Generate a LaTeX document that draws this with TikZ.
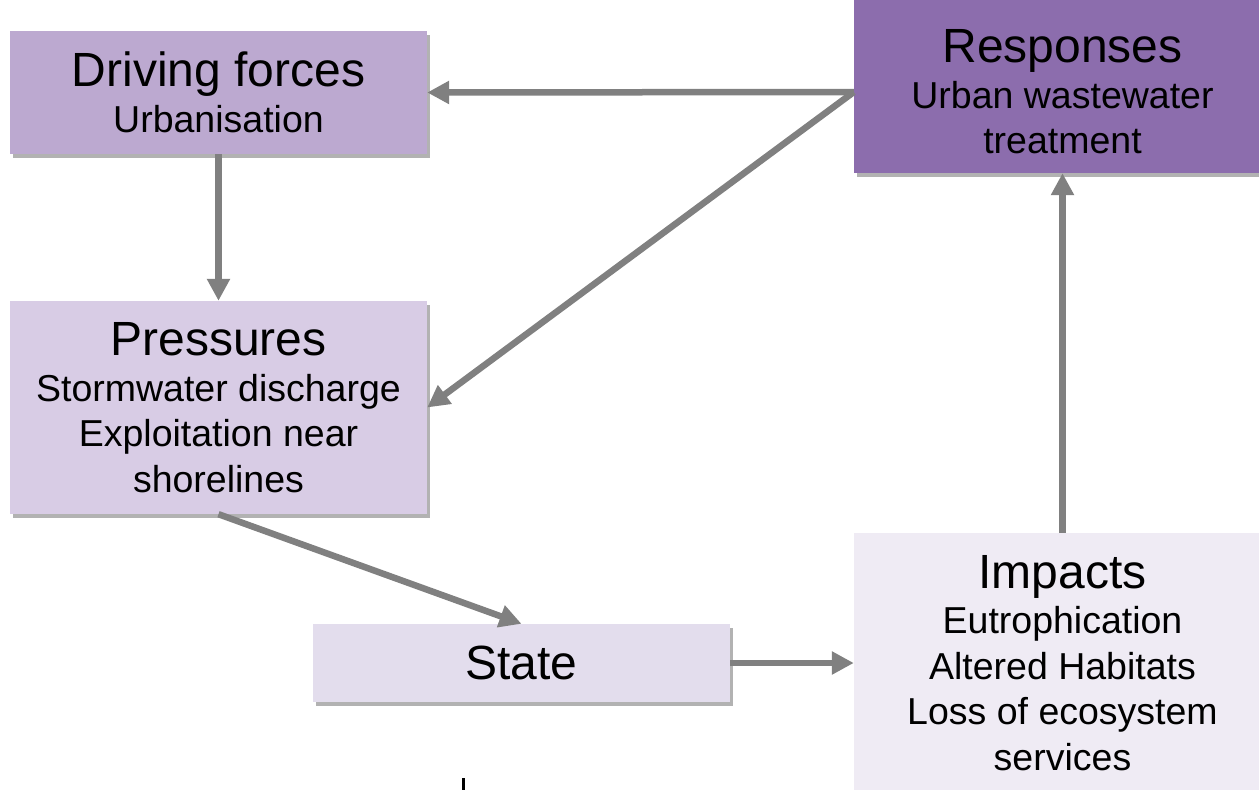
\documentclass[tikz,border=0pt]{standalone}
\usepackage{fontspec}
\setmainfont{Liberation Sans}
\usetikzlibrary{arrows.meta,shadows}
\definecolor{cdrv}{HTML}{BCA9D0}
\definecolor{cres}{HTML}{8C6DAD}
\definecolor{cprs}{HTML}{D8CCE5}
\definecolor{csta}{HTML}{E3DDED}
\definecolor{cimp}{HTML}{EFEBF4}
\definecolor{carr}{HTML}{808080}
\tikzset{
  box/.style={draw=none, inner sep=0pt, minimum width=417pt, align=center,
    font=\fontsize{37.5}{45.5}\selectfont,
    drop shadow={shadow xshift=3pt, shadow yshift=-4pt, fill=black, opacity=0.3}},
  txt/.style={inner sep=0pt, align=center, font=\fontsize{37.5}{45.5}\selectfont},
  conn/.style={draw=carr, line width=6.5pt, -{Triangle[length=22pt,width=22pt]}},
}
\newcommand{\ttl}[1]{{\fontsize{48}{45.5}\selectfont #1}}
\begin{document}
\begin{tikzpicture}[x=1pt,y=-1pt]
\useasboundingbox[fill=white] (0,0) rectangle (1259,790);
\node[box, fill=cdrv, minimum height=123pt] (drv) at (218.5,92.5)
  {\ttl{Driving forces}\\Urbanisation};
\node[box, fill=cprs, minimum height=213pt] (prs) at (218.5,407.5)
  {\ttl{Pressures}\\Stormwater discharge\\Exploitation near\\shorelines};
\node[box, fill=csta, minimum height=78pt] (sta) at (521.5,663)
  {\ttl{State}};
\node[box, fill=cimp, minimum height=260pt] (imp) at (1062.5,663)
  {\ttl{Impacts}\\Eutrophication\\Altered Habitats\\Loss of ecosystem\\services};
\node[box, fill=cres, minimum height=193pt] (res) at (1062.5,76.5) {};
\node[txt] (restxt) at (1062.5,92)
  {\ttl{Responses}\\Urban wastewater\\treatment};
\coordinate (resout) at (res.west |- restxt.center);
\draw[conn] (drv.south) -- (prs.north);
\draw[conn] (resout) -- (drv.east);
\draw[conn] (resout) -- (prs.east);
\draw[conn] (prs.south) -- (sta.north);
\draw[conn] (sta.east) -- (imp.west |- sta.east);
\draw[conn] (imp.north) -- (res.south);
\fill[black] (462,778) rectangle (465,790);
\end{tikzpicture}
\end{document}
